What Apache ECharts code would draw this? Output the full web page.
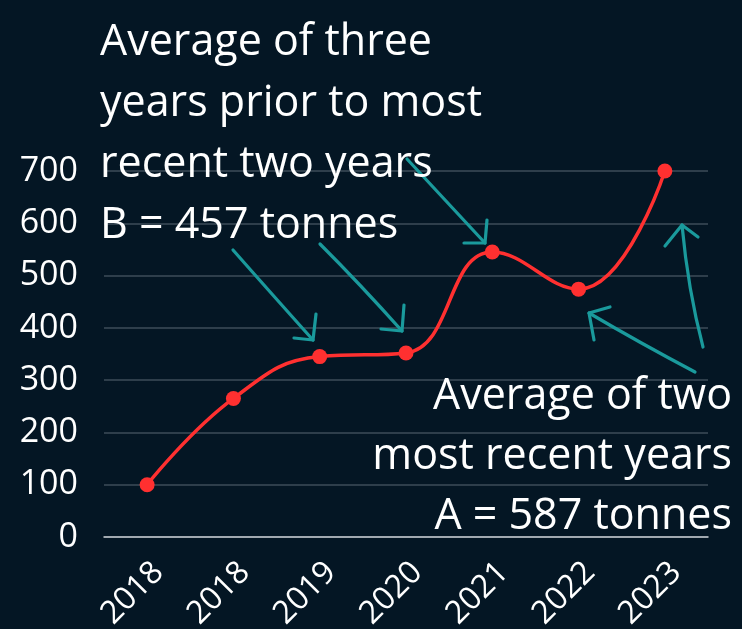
<!DOCTYPE html>
<html>
<head>
<meta charset="utf-8">
<script src="https://cdn.jsdelivr.net/npm/echarts@6/dist/echarts.min.js"></script>
<style>
html,body{margin:0;padding:0;background:#041624;}
#c{width:742px;height:629px;}
</style>
</head>
<body>
<div id="c"></div>
<script>
const categories = ['2018','2018','2019','2020','2021','2022','2023'];
const values = [100, 265, 345, 352, 545, 474, 700];
const yTicks = [0, 100, 200, 300, 400, 500, 600, 700];
const noteB = ['Average of three', 'years prior to most', 'recent two years', 'B = 457 tonnes'];
const noteA = ['Average of two', 'most recent years', 'A = 587 tonnes'];

const FONT = '"Open Sans", "Noto Sans", sans-serif';
const TEAL = '#1a9a9c';

// annotation arrows: shaft [x1,y1,cx,cy,x2,y2], head [[a],[tip],[b]]
const arrows = [
  {s: [233,250, 270,292, 313,340], h: [[316,314],[313,340],[294,338]]},
  {s: [320,244, 360,284, 402,331], h: [[404,305],[402,331],[381,329]]},
  {s: [407,159, 445,200, 485,243], h: [[487,220],[485,243],[464,243]]},
  {s: [695,372, 640,343, 589,313], h: [[610,307],[589,313],[594,340]]},
  {s: [703,347, 688,290, 682,225], h: [[665,246],[682,225],[698,237]]}
];

const chart = echarts.init(document.getElementById('c'), null, {renderer: 'canvas'});
const graphics = [];
const st = {stroke: TEAL, lineWidth: 3.2, fill: null, lineCap: 'round', lineJoin: 'round'};
arrows.forEach(a => {
  graphics.push({type: 'bezierCurve', shape: {x1: a.s[0], y1: a.s[1], cpx1: a.s[2], cpy1: a.s[3], x2: a.s[4], y2: a.s[5]}, style: st, z: 5});
  graphics.push({type: 'polyline', shape: {points: a.h}, style: st, z: 5});
});
graphics.push({
  type: 'text', x: 100, y: 12, z: 10,
  style: {text: noteB.join('\n'), fill: '#ffffff', font: '43px ' + FONT, lineHeight: 61, align: 'left', verticalAlign: 'top'}
});
graphics.push({
  type: 'text', x: 732, y: 367, z: 10,
  style: {text: noteA.join('\n'), fill: '#ffffff', font: '43px ' + FONT, lineHeight: 60, align: 'right', verticalAlign: 'top'}
});

chart.setOption({
  backgroundColor: '#041624',
  animation: false,
  grid: {left: 104, right: 34, top: 171, bottom: 92, containLabel: false, outerBoundsMode: 'none'},
  xAxis: {
    type: 'category',
    data: categories,
    boundaryGap: true,
    axisLine: {show: true, lineStyle: {color: '#c8cdd2', width: 1.5}},
    axisTick: {show: false},
    axisLabel: {rotate: 45, color: '#ffffff', fontSize: 32, fontFamily: FONT, margin: 19, verticalAlign: 'top'}
  },
  yAxis: {
    type: 'value',
    min: yTicks[0], max: yTicks[yTicks.length - 1], interval: 100,
    axisLine: {show: false},
    axisTick: {show: false},
    splitLine: {lineStyle: {color: '#3d4d58', width: 1.5}},
    axisLabel: {color: '#ffffff', fontSize: 34, fontFamily: FONT, margin: 26}
  },
  series: [{
    type: 'line',
    data: values,
    smooth: 0.45,
    symbol: 'circle',
    symbolSize: 15,
    lineStyle: {color: '#ff3030', width: 3.5},
    itemStyle: {color: '#ff3030'},
    z: 3
  }],
  graphic: graphics
});
</script>
</body>
</html>
